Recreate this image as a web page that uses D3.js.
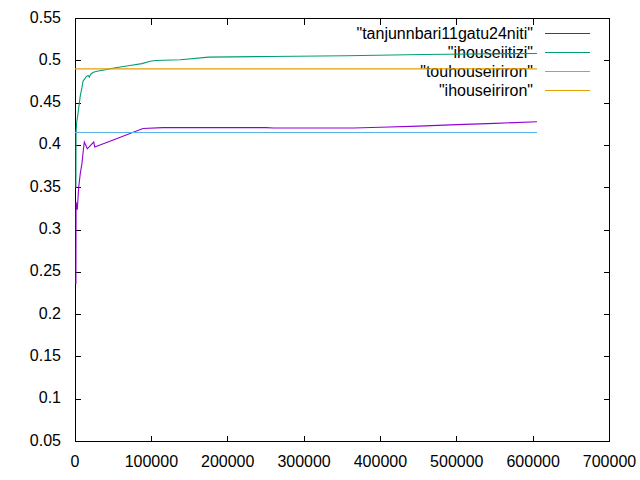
<!DOCTYPE html>
<html>
<head>
<meta charset="utf-8">
<script src="https://cdn.jsdelivr.net/npm/d3@7"></script>
<style>
html,body{margin:0;padding:0;background:#fff;}
svg{display:block;}
text{font-family:"Liberation Sans",Arial,sans-serif;font-size:16px;fill:#000;}
line,rect{shape-rendering:crispEdges;}
</style>
</head>
<body>
<svg id="chart" width="640" height="480"></svg>
<script>
// ---- data ----
const seriesNames = ['"tanjunnbari11gatu24niti"', '"ihouseiitizi"', '"touhouseiriron"', '"ihouseiriron"'];
const seriesColors = ["#9400d3", "#009e73", "#56b4e9", "#e69f00"];

const tanjunnbari = [[1200,0.236],[1400,0.333],[3000,0.324],[4850,0.351],[6950,0.367],[9170,0.379],[10500,0.391],[12200,0.404],[16100,0.396],[24500,0.404],[25800,0.398],[50000,0.4064],[89000,0.420],[115000,0.421],[250000,0.421],[260000,0.4205],[365000,0.4205],[400000,0.4215],[450000,0.4228],[500000,0.4245],[550000,0.426],[605000,0.428]];
const ihouseiitizi = [[1200,0.35],[1400,0.4156],[2200,0.4274],[3900,0.4374],[5600,0.4492],[6950,0.459],[9200,0.4688],[10500,0.4759],[12700,0.4787],[14800,0.4814],[17000,0.4826],[18800,0.4806],[20100,0.4838],[22300,0.4853],[24000,0.4865],[28900,0.4877],[39800,0.4894],[52900,0.4917],[72000,0.4945],[87600,0.4967],[98500,0.4995],[105000,0.5003],[138000,0.5012],[175000,0.5043],[255000,0.5051],[355000,0.5059],[456000,0.5074],[549000,0.5083],[605000,0.5087]];
const touhouseiriron = [[0,0.4152],[605000,0.4152]];
const ihouseiriron = [[0,0.4905],[605000,0.4905]];

const xTicks = [0,100000,200000,300000,400000,500000,600000,700000];
const yTicks = [0.05,0.1,0.15,0.2,0.25,0.3,0.35,0.4,0.45,0.5,0.55];

const allSeries = [tanjunnbari, ihouseiitizi, touhouseiriron, ihouseiriron];

// ---- layout ----
const L = 75, R = 609.5, T = 18.5, B = 441.5;
const svg = d3.select("#chart");
const x = d3.scaleLinear().domain([0,700000]).range([L,R]);
const y = d3.scaleLinear().domain([0.05,0.55]).range([B,T]);

const tick = 6;
const g = svg.append("g");

// ticks (inward, mirrored)
xTicks.forEach(v=>{
  g.append("line").attr("x1",x(v)).attr("x2",x(v)).attr("y1",B).attr("y2",B-tick).attr("stroke","#000");
  g.append("line").attr("x1",x(v)).attr("x2",x(v)).attr("y1",T).attr("y2",T+tick).attr("stroke","#000");
  g.append("text").attr("x",x(v)).attr("y",B+25).attr("text-anchor","middle").text(d3.format("d")(v));
});
yTicks.forEach(v=>{
  g.append("line").attr("x1",L).attr("x2",L+tick).attr("y1",y(v)).attr("y2",y(v)).attr("stroke","#000");
  g.append("line").attr("x1",R).attr("x2",R-tick).attr("y1",y(v)).attr("y2",y(v)).attr("stroke","#000");
  g.append("text").attr("x",L-14).attr("y",y(v)+4).attr("text-anchor","end").text(String(+v.toFixed(2)));
});

// border
g.append("rect").attr("x",L).attr("y",T).attr("width",R-L).attr("height",B-T)
  .attr("fill","none").attr("stroke","#000").attr("stroke-width",1);

// legend
const legY0 = 33.3, legDy = 19;
seriesNames.forEach((n,i)=>{
  const yy = legY0 + i*legDy;
  g.append("text").attr("x",533).attr("y",yy+5.5).attr("text-anchor","end").text(n);
  g.append("line").attr("x1",545).attr("x2",590).attr("y1",yy).attr("y2",yy)
    .attr("stroke",seriesColors[i]).attr("stroke-width",1);
});

// lines
const line = d3.line().x(d=>x(d[0])).y(d=>y(d[1]));
allSeries.forEach((s,i)=>{
  g.append("path").attr("d",line(s)).attr("fill","none")
    .attr("stroke",seriesColors[i]).attr("stroke-width",1.1);
});
</script>
</body>
</html>
